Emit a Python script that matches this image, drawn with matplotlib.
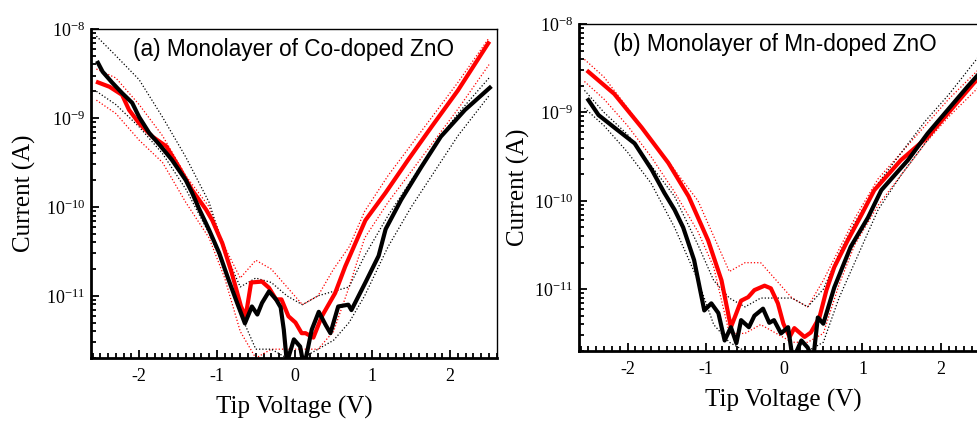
import numpy as np
import matplotlib
matplotlib.use("Agg")
import matplotlib.pyplot as plt
from matplotlib.ticker import FixedLocator, LogFormatterMathtext, NullFormatter

plt.rcParams['font.family'] = ['Liberation Serif', 'DejaVu Serif']
plt.rcParams['mathtext.fontset'] = 'custom'
plt.rcParams['mathtext.rm'] = 'Liberation Serif'
plt.rcParams['mathtext.it'] = 'Liberation Serif:italic'
plt.rcParams['axes.unicode_minus'] = False

# ---- (a) Co-doped ZnO: averaged curves (log10 of current in A) ----
a_black_v = [-2.53, -2.47, -2.35, -2.22, -2.09, -2.00, -1.87, -1.74, -1.58, -1.40, -1.32, -1.23,
             -1.10, -0.97, -0.85, -0.74, -0.64, -0.55, -0.48, -0.42, -0.33, -0.24, -0.18, -0.14,
             -0.10, -0.01, 0.07, 0.12, 0.22, 0.31, 0.40, 0.46, 0.56, 0.69, 0.73, 0.91, 1.08,
             1.17, 1.37, 1.63, 1.88, 2.19, 2.51]
a_black_log = [-8.38, -8.48, -8.60, -8.72, -8.83, -8.99, -9.17, -9.30, -9.47, -9.70, -9.84, -10.02,
               -10.26, -10.52, -10.82, -11.08, -11.31, -11.12, -11.21, -11.08, -10.95, -11.04, -11.13, -11.38,
               -11.75, -11.49, -11.57, -11.80, -11.38, -11.18, -11.33, -11.42, -11.12, -11.10, -11.16, -10.85, -10.55,
               -10.25, -9.92, -9.55, -9.21, -8.91, -8.66]

a_red_v = [-2.53, -2.38, -2.22, -2.13, -2.00, -1.83, -1.65, -1.49, -1.32, -1.14, -1.06, -0.93,
           -0.81, -0.69, -0.63, -0.56, -0.42, -0.33, -0.24, -0.17, -0.08, 0.01, 0.09, 0.14,
           0.24, 0.35, 0.52, 0.65, 0.91, 1.17, 1.46, 1.76, 2.10, 2.49]
a_red_log = [-8.60, -8.65, -8.74, -8.91, -9.06, -9.21, -9.32, -9.55, -9.81, -10.03, -10.15, -10.41,
             -10.74, -11.12, -11.23, -10.85, -10.84, -10.91, -11.04, -11.04, -11.23, -11.30, -11.42, -11.42,
             -11.47, -11.23, -10.97, -10.67, -10.15, -9.84, -9.47, -9.10, -8.69, -8.16]

# ---- (b) Mn-doped ZnO ----
b_black_v = [-2.50, -2.37, -2.17, -1.91, -1.69, -1.53, -1.40, -1.29, -1.15, -1.02, -0.93, -0.84,
             -0.76, -0.68, -0.61, -0.55, -0.45, -0.38, -0.27, -0.19, -0.13, -0.04, 0.05, 0.11,
             0.22, 0.30, 0.37, 0.43, 0.50, 0.64, 0.85, 1.07, 1.24, 1.58, 1.83, 2.09, 2.34, 2.50]
b_black_log = [-8.86, -9.03, -9.17, -9.35, -9.65, -9.91, -10.10, -10.30, -10.67, -11.24, -11.16, -11.27,
               -11.58, -11.43, -11.61, -11.35, -11.43, -11.30, -11.22, -11.38, -11.35, -11.50, -11.43, -11.80,
               -11.58, -11.66, -11.80, -11.32, -11.39, -10.98, -10.52, -10.19, -9.88, -9.54, -9.24, -8.97, -8.71, -8.55]

b_red_v = [-2.50, -2.17, -1.82, -1.48, -1.22, -0.97, -0.80, -0.68, -0.61, -0.55, -0.46, -0.38,
           -0.25, -0.17, -0.08, -0.01, 0.07, 0.13, 0.26, 0.34, 0.45, 0.54, 0.64, 0.81,
           0.98, 1.15, 1.49, 1.83, 2.13, 2.42, 2.50]
b_red_log = [-8.54, -8.79, -9.17, -9.57, -9.95, -10.45, -10.90, -11.43, -11.27, -11.13, -11.09, -11.01,
             -10.96, -10.99, -11.16, -11.39, -11.54, -11.44, -11.54, -11.49, -11.32, -11.01, -10.75, -10.45,
             -10.17, -9.88, -9.54, -9.28, -8.97, -8.67, -8.60]

# ---- spread of the single measurements (upper / lower dotted traces) ----
spread_v = [-2.55, -2.3, -2.0, -1.7, -1.4, -1.1, -0.9, -0.7, -0.5, -0.3, -0.1,
            0.1, 0.3, 0.5, 0.7, 0.9, 1.2, 1.5, 1.8, 2.1, 2.5]
a_black_hi = [-8.08, -8.30, -8.57, -8.99, -9.44, -9.95, -10.50, -10.90, -10.80, -10.85, -11.00,
              -11.10, -11.00, -10.95, -10.90, -10.55, -10.10, -9.70, -9.30, -8.95, -8.55]
a_black_lo = [-8.70, -8.85, -9.10, -9.40, -9.80, -10.30, -10.70, -11.20, -11.60, -11.60, -11.70,
              -11.70, -11.60, -11.50, -11.30, -11.00, -10.45, -10.00, -9.60, -9.20, -8.75]
a_red_hi = [-8.45, -8.55, -8.85, -9.20, -9.65, -10.00, -10.45, -10.80, -10.60, -10.70, -10.90,
            -11.10, -11.00, -10.70, -10.45, -10.05, -9.65, -9.30, -8.95, -8.60, -8.10]
a_red_lo = [-8.80, -8.95, -9.25, -9.50, -9.95, -10.35, -10.80, -11.40, -11.70, -11.60, -11.60,
            -11.60, -11.60, -11.40, -10.90, -10.35, -9.95, -9.60, -9.25, -8.90, -8.40]
b_black_hi = [-8.75, -9.00, -9.25, -9.60, -9.95, -10.50, -10.90, -11.10, -11.20, -11.10, -11.10,
              -11.10, -11.20, -11.00, -10.60, -10.25, -9.80, -9.45, -9.10, -8.80, -8.35]
b_black_lo = [-8.95, -9.15, -9.45, -9.80, -10.30, -10.90, -11.40, -11.60, -11.70, -11.70, -11.70,
              -11.70, -11.70, -11.60, -11.10, -10.70, -10.10, -9.70, -9.35, -9.00, -8.60]
b_red_hi = [-8.40, -8.60, -8.95, -9.30, -9.65, -10.00, -10.40, -10.80, -10.70, -10.70, -10.90,
            -11.10, -11.20, -10.90, -10.55, -10.20, -9.75, -9.45, -9.15, -8.85, -8.50]
b_red_lo = [-8.65, -8.85, -9.15, -9.50, -9.90, -10.35, -10.75, -11.50, -11.50, -11.40, -11.50,
            -11.60, -11.60, -11.50, -10.95, -10.50, -10.05, -9.70, -9.35, -9.05, -8.70]

titles = ['(a) Monolayer of Co-doped ZnO', '(b) Monolayer of Mn-doped ZnO']
x_ticks = [-2, -1, 0, 1, 2]
y_ticks = [1e-11, 1e-10, 1e-9, 1e-8]


def style_axes(ax, label_y, xlab_y):
    ax.set_yscale('log')
    ax.set_xlim(-2.62, 2.6)
    ax.set_ylim(2.0e-12, 1e-8)
    ax.xaxis.set_major_locator(FixedLocator(x_ticks))
    ax.xaxis.set_minor_locator(FixedLocator(np.round(np.arange(-2.6, 2.61, 0.1), 2)))
    ax.yaxis.set_major_locator(FixedLocator(y_ticks))
    minor_y = [m * 10.0 ** e for e in range(-12, -8) for m in range(2, 10)]
    ax.yaxis.set_minor_locator(FixedLocator(minor_y))
    ax.yaxis.set_major_formatter(LogFormatterMathtext())
    ax.yaxis.set_minor_formatter(NullFormatter())
    ax.tick_params(which='both', direction='in', top=False, right=False, labelsize=13, width=1.3)
    ax.tick_params(which='major', length=6)
    ax.tick_params(which='minor', length=3.5)
    ax.tick_params(axis='x', pad=7)
    ax.tick_params(axis='y', pad=4)
    ax.spines['left'].set_linewidth(2)
    ax.spines['bottom'].set_linewidth(2)
    ax.spines['top'].set_linewidth(1)
    ax.spines['right'].set_linewidth(1)
    ax.set_xlabel('Tip Voltage (V)', fontsize=18)
    ax.set_ylabel('Current (A)', fontsize=18)
    ax.xaxis.set_label_coords(0.5, xlab_y)
    ax.yaxis.set_label_coords(label_y, 0.5)


def draw_panel(ax, black_v, black_log, red_v, red_log, bhi, blo, rhi, rlo):
    dots = (0, (1, 1.6))
    for arr in (rhi, rlo):
        ax.plot(spread_v, 10.0 ** np.array(arr), color='red', lw=0.9, linestyle=dots)
    for arr in (bhi, blo):
        ax.plot(spread_v, 10.0 ** np.array(arr), color='black', lw=0.9, linestyle=dots)
    ax.plot(red_v, 10.0 ** np.array(red_log), color='red', lw=3)
    ax.plot(black_v, 10.0 ** np.array(black_log), color='black', lw=3)


fig = plt.figure(figsize=(9.78, 4.23), dpi=100)
ax1 = fig.add_axes([0.093, 0.1537, 0.415, 0.7777])
ax2 = fig.add_axes([0.592, 0.1702, 0.418, 0.773])

draw_panel(ax1, a_black_v, a_black_log, a_red_v, a_red_log, a_black_hi, a_black_lo, a_red_hi, a_red_lo)
draw_panel(ax2, b_black_v, b_black_log, b_red_v, b_red_log, b_black_hi, b_black_lo, b_red_hi, b_red_lo)

style_axes(ax1, -0.135, -0.115)
style_axes(ax2, -0.12, -0.115)

ax1.text(0.103, 0.939, titles[0], transform=ax1.transAxes, ha='left', va='center',
         fontsize=16.3, family=['Liberation Sans', 'DejaVu Sans'])
ax2.text(0.083, 0.936, titles[1], transform=ax2.transAxes, ha='left', va='center',
         fontsize=16.3, family=['Liberation Sans', 'DejaVu Sans'])

fig.savefig('out.png', dpi=100)
